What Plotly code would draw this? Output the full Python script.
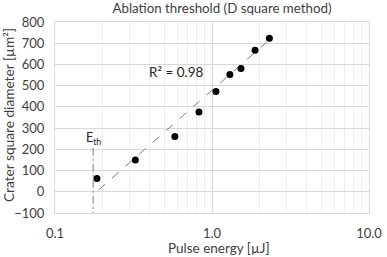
import plotly.graph_objects as go

energy = [0.185, 0.325, 0.58, 0.826, 1.06, 1.30, 1.53, 1.88, 2.32]
diam_sq = [63, 150, 261, 376, 472, 553, 581, 667, 723]

trend_x = [0.189, 2.23]
trend_y = [8, 705]

eth_x = [0.175, 0.175]
eth_y = [207, -205]

font_family = "Lato, Open Sans, sans-serif"
txt = "#404040"

fig = go.Figure()
fig.add_trace(go.Scatter(x=trend_x, y=trend_y, mode="lines",
                         line=dict(color="#7f7f7f", width=1, dash="dash"),
                         showlegend=False, hoverinfo="skip"))
fig.add_trace(go.Scatter(x=energy, y=diam_sq, mode="markers",
                         marker=dict(color="black", size=7),
                         showlegend=False))
fig.add_trace(go.Scatter(x=eth_x, y=eth_y, mode="lines",
                         line=dict(color="#7f7f7f", width=1, dash="8px,3px,2px,3px"),
                         showlegend=False, cliponaxis=False, hoverinfo="skip"))

fig.add_annotation(x=-0.223, y=564, xref="x", yref="y", text="R² = 0.98",
                   showarrow=False, font=dict(size=13.5, color="#262626", family=font_family))
fig.add_annotation(x=-0.757, y=250, xref="x", yref="y", text="E<sub>th</sub>",
                   showarrow=False, font=dict(size=12.5, color="#262626", family=font_family))
# axis titles
fig.add_annotation(x=-0.1497, y=0.513, xref="paper", yref="paper", textangle=-90,
                   text="Crater square diameter [µm²]", showarrow=False,
                   xanchor="center", yanchor="middle",
                   font=dict(size=13.7, color=txt, family=font_family))
fig.add_annotation(x=0.522, y=-0.182, xref="paper", yref="paper",
                   text="Pulse energy [µJ]", showarrow=False,
                   xanchor="center", yanchor="middle",
                   font=dict(size=13.5, color=txt, family=font_family))

fig.update_layout(
    width=387, height=257,
    margin=dict(l=55, r=18, t=22, b=44, autoexpand=False),
    paper_bgcolor="white", plot_bgcolor="white",
    font=dict(family=font_family, color=txt, size=13),
    title=dict(text="Ablation threshold (D square method)", x=222/387, xanchor="center",
               y=1 - 8/257, yanchor="middle", font=dict(size=13.3, color=txt)),
)
fig.update_xaxes(type="log", range=[-1, 1],
                 tickvals=[0.1, 1, 10], ticktext=["0.1", "1.0", "10.0"],
                 showgrid=True, gridcolor="#d9d9d9", gridwidth=1,
                 minor=dict(showgrid=True, gridcolor="#efefef", tickvals=[0.2,0.3,0.4,0.5,0.6,0.7,0.8,0.9,2,3,4,5,6,7,8,9]),
                 showline=True, linecolor="#d9d9d9", mirror=True,
                 zeroline=False, ticks="", ticklabelstandoff=8, automargin=False,
                 tickfont=dict(size=13))
fig.update_yaxes(range=[-100, 800], dtick=100,
                 showgrid=True, gridcolor="#d9d9d9", gridwidth=1,
                 showline=True, linecolor="#d9d9d9", mirror=True,
                 zeroline=False, ticks="", ticklabelstandoff=7, automargin=False,
                 tickfont=dict(size=13))

fig.write_html("out.html", config={"displayModeBar": False, "staticPlot": True},
               post_script="document.body.style.margin='0';document.body.style.overflow='hidden';")
